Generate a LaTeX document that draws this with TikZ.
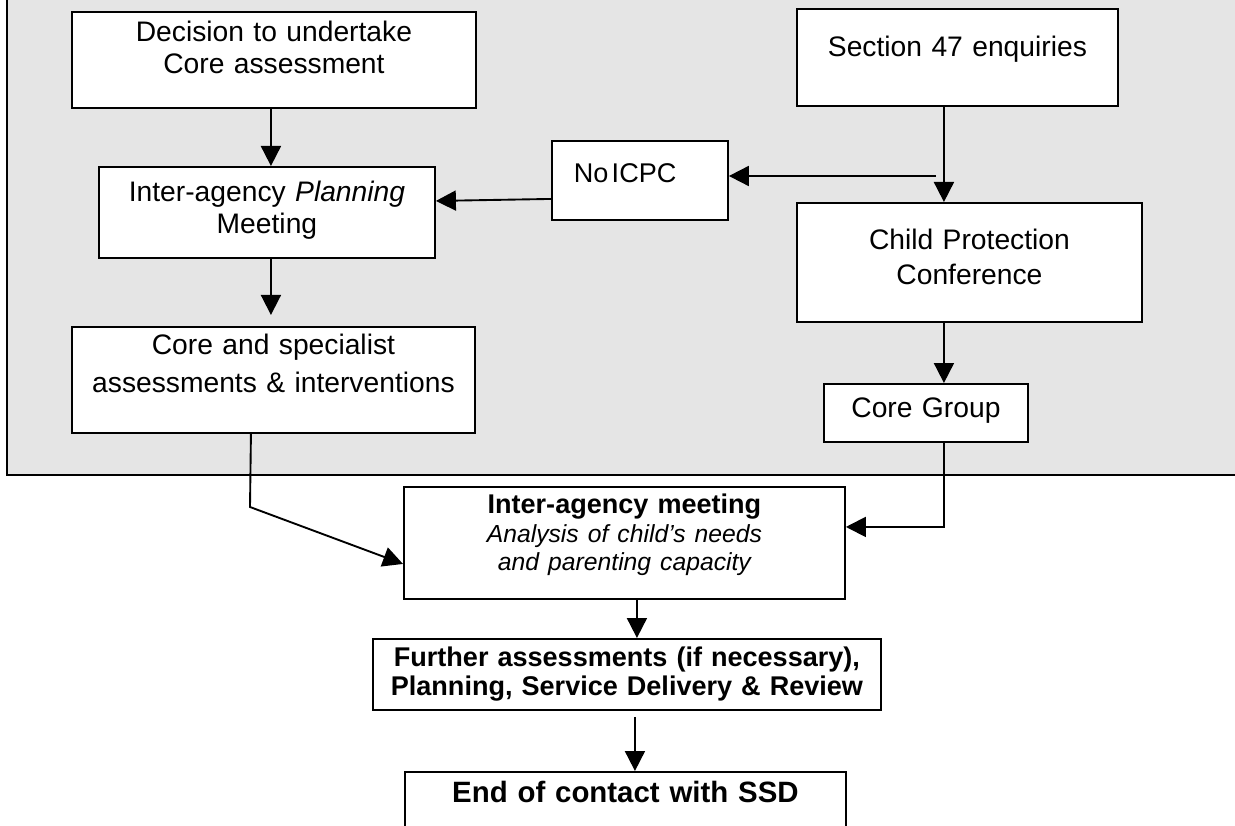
\documentclass[tikz,border=0pt]{standalone}
\usepackage{fontspec}
\setmainfont{Liberation Sans}
\usetikzlibrary{arrows.meta}

\newlength\pxu
\setlength\pxu{0.425pt}

\tikzset{
    box/.style={draw, fill=white, line width=0.8pt, inner xsep=0pt, inner ysep=0pt,
        align=center, anchor=north west, font=\fontsize{12}{13.5}\selectfont},
    flow/.style={line width=0.8pt, -{Triangle[length=8.5pt, width=8.5pt]}}
}

\begin{document}
\begin{tikzpicture}[x=0.425pt, y=-0.425pt]
        \useasboundingbox (0,0) rectangle (1235,826);
        \clip (0,0) rectangle (1235,826);

        % --- grey panel ---
        \fill[black!10] (7,-5) rectangle (1240,475);
        \draw[line width=1pt] (7,-5) -- (7,475) -- (1240,475);

        % --- boxes inside the panel ---
        \node[box, text width=404\pxu, text height=29.5\pxu, text depth=66.5\pxu] (dec) at (71,11)
            {Decision to undertake\\Core assessment};
        \node[box, text width=321\pxu, text height=48\pxu, text depth=49\pxu] (sec47) at (796,8)
            {Section 47 enquiries};
        \node[box, text width=336\pxu, text height=35\pxu, text depth=56\pxu] (plan) at (98,166)
            {Inter-agency \textit{Planning}\\Meeting};
        \node[box, align=left, inner xsep=22\pxu, text width=132\pxu, text height=42\pxu, text depth=37\pxu,
            font=\fontsize{11.5}{13}\selectfont] (noicpc) at (551,140) {No\hspace{0.12em}ICPC};
        \node[box, text width=345\pxu, text height=47\pxu, text depth=72\pxu] (cpc) at (796,202)
            {Child Protection\\[1pt]Conference};
        \node[box, text width=403\pxu, text height=28\pxu, text depth=78\pxu] (core) at (71,326)
            {Core and specialist\\[2.5pt]assessments \& interventions};
        \node[box, text width=204\pxu, text height=34\pxu, text depth=24\pxu] (grp) at (823,383)
            {Core Group};

        % --- boxes below the panel ---
        \node[box, text width=441\pxu, text height=27\pxu, text depth=85\pxu,
            font=\fontsize{11.5}{12}\selectfont] (meet) at (403,486)
            {\textbf{Inter-agency meeting}\\{\fontsize{10.5}{12}\selectfont\itshape Analysis of child’s needs\\and parenting capacity}};
        \node[box, text width=508\pxu, text height=28\pxu, text depth=43\pxu,
            font=\bfseries\fontsize{11.5}{12.3}\selectfont] (further) at (372,638)
            {Further assessments (if necessary),\\Planning, Service Delivery \& Review};
        \node[box, text width=441\pxu, text height=31\pxu, text depth=80\pxu,
            font=\bfseries\fontsize{12.5}{14}\selectfont] (endc) at (404,771)
            {End of contact with SSD};

        % --- arrows ---
        \coordinate (split) at (936,176);
        \coordinate (bend) at (250,507);
        \coordinate (decout) at ([xshift=-3\pxu]dec.south);
        \coordinate (planout) at ([xshift=4\pxu]plan.south);
        \coordinate (secout) at ([xshift=-13.5\pxu]sec47.south);
        \coordinate (cpcout) at ([xshift=-25.5\pxu]cpc.south);
        \coordinate (meetout) at ([xshift=12.5\pxu]meet.south);
        \coordinate (furtherout) at ([xshift=8\pxu]further.south);

        \draw[flow] (decout) -- (decout |- plan.north);
        \draw[flow, shorten >=4.7pt] (planout) -- (planout |- core.north);
        \draw[flow] (secout) -- (secout |- cpc.north);
        \draw[flow] (split) -- (split -| noicpc.east);
        \draw[flow] ([yshift=-18.5\pxu]noicpc.west) -- ([yshift=11.5\pxu]plan.east);
        \draw[flow] (cpcout) -- (cpcout |- grp.north);
        \draw[flow] ([xshift=18\pxu]grp.south) |- ([yshift=16\pxu]meet.east);
        \draw[flow] ([xshift=-22.5\pxu]core.south) -- (bend) -- ([yshift=-21\pxu]meet.west);
        \draw[flow] (meetout) -- (meetout |- further.north);
        \draw[flow, shorten <=2.5pt] (furtherout) -- (furtherout |- endc.north);

    \end{tikzpicture}
\end{document}
